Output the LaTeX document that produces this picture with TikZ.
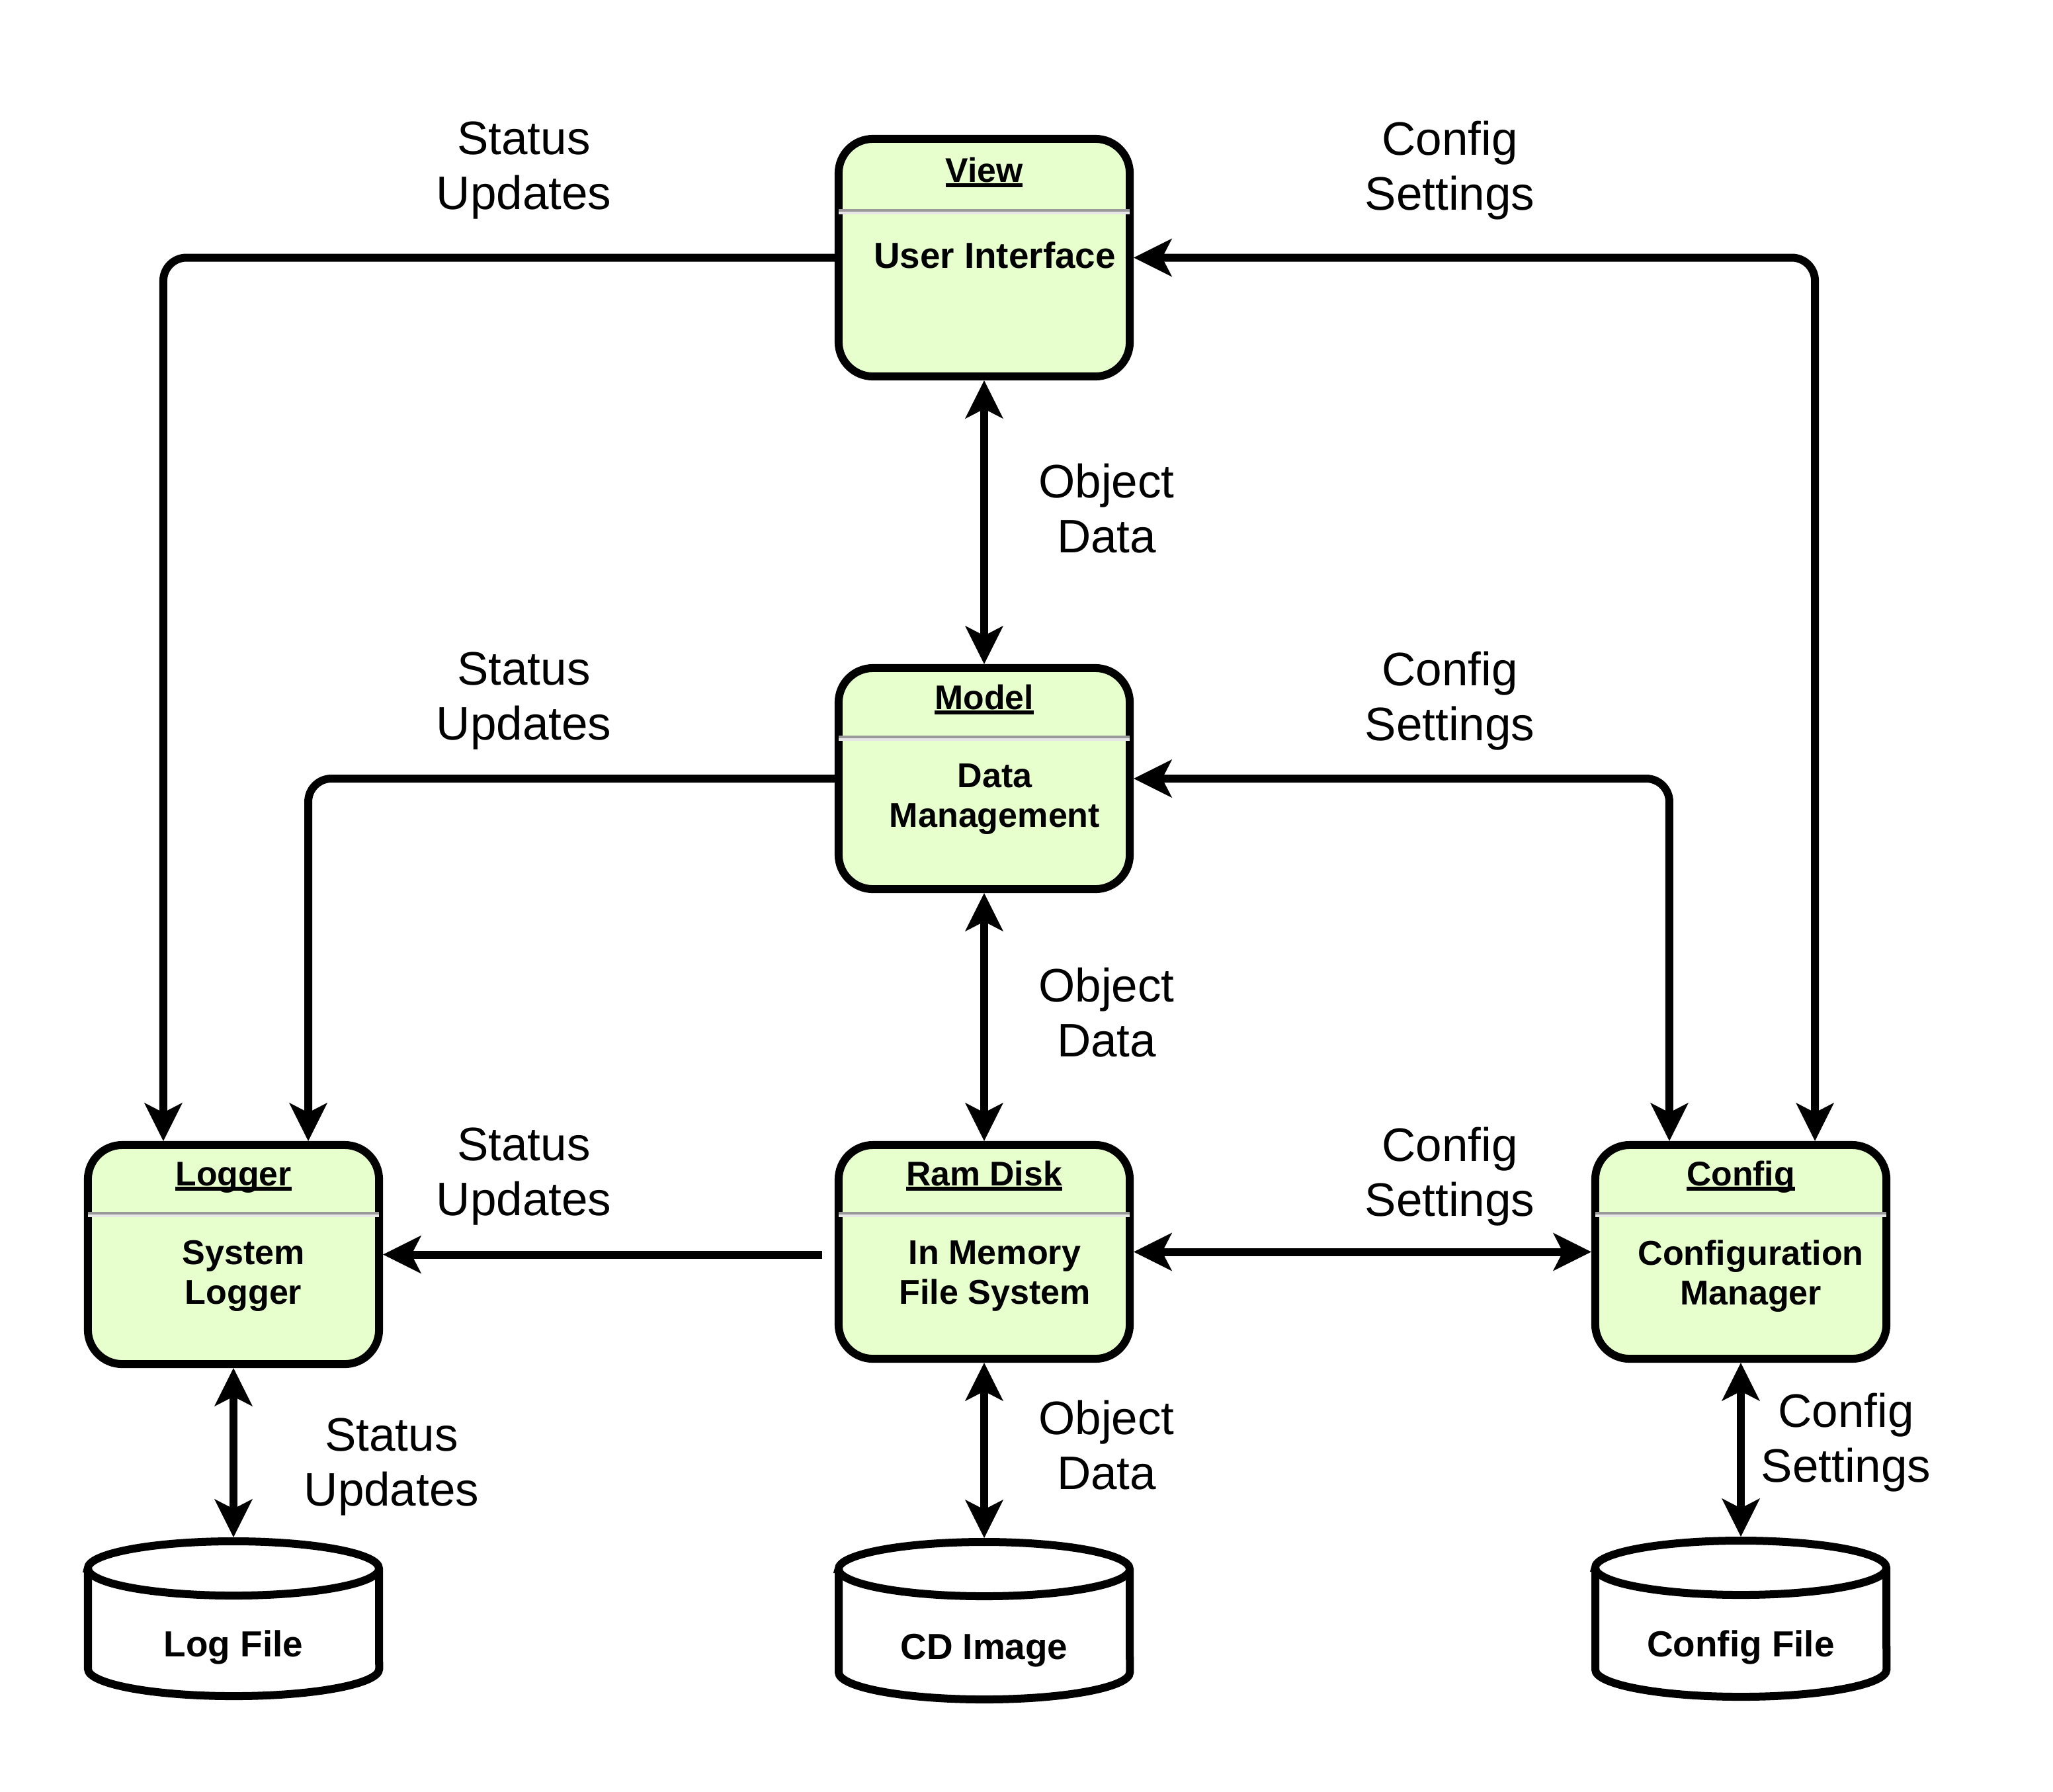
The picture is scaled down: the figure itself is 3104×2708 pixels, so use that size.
\documentclass[tikz,border=0pt]{standalone}
\usepackage{fontspec}
\setmainfont{Liberation Sans}
\usetikzlibrary{arrows.meta,calc}

\definecolor{boxgreen}{HTML}{E6FFCC}
\definecolor{divdark}{HTML}{999999}
\definecolor{divlight}{HTML}{E6E6E6}

% underlined class title
\newcommand\titleul[1]{\setbox0=\hbox{#1}\rlap{\rule[-0.08cm]{\wd0}{0.06cm}}\box0}

\tikzset{
  cbox/.style={rectangle, rounded corners=0.52cm, draw=black, line width=0.12cm,
    fill=boxgreen, minimum width=4.4cm, inner sep=0pt},
  drumbox/.style={rectangle, minimum width=4.4cm, inner sep=0pt, outer sep=0.06cm},
  drumline/.style={draw=black, line width=0.12cm, fill=white},
  divA/.style={draw=divdark, line width=0.04cm},
  divB/.style={draw=divlight, line width=0.04cm},
  ttl/.style={font=\bfseries\fontsize{14.7pt}{17pt}\selectfont, inner sep=0pt, anchor=base},
  bodytxt/.style={font=\bfseries\fontsize{14.8pt}{17.07pt}\selectfont, align=center, inner sep=0pt},
  drumtxt/.style={font=\bfseries\fontsize{15.6pt}{18pt}\selectfont, inner sep=0pt, anchor=base},
  lbl/.style={font=\fontsize{20.2pt}{23.6pt}\selectfont, align=center, inner sep=0pt},
  conn/.style={draw=black, line width=0.12cm, rounded corners=0.35cm},
}

\begin{document}
\begin{tikzpicture}[x=0.01cm, y=-0.01cm,
  >={Stealth[length=0.58cm, width=0.58cm, inset=0.15cm, line width=0pt]}]
\useasboundingbox (0,0) rectangle (3104,2708);

% ---- class boxes ----
\node[cbox, minimum height=3.59cm] (view)    at (1488,389.5) {};
\node[cbox, minimum height=3.34cm] (model)   at (1488,1177)  {};
\node[cbox, minimum height=3.23cm] (ramdisk) at (1488,1892.5) {};
\node[cbox, minimum height=3.31cm] (logger)  at (353,1896.5) {};
\node[cbox, minimum height=3.23cm] (config)  at (2632,1892.5) {};

% compartment separators
\foreach \xl/\xr/\yd in {1268/1708/318, 1268/1708/1114, 1268/1708/1834, 133/573/1834, 2412/2852/1834}{
  \draw[divA] (\xl,\yd) -- (\xr,\yd);
  \draw[divB] (\xl,\yd+4) -- (\xr,\yd+4);
}

% titles
\node[ttl] (viewT)    at (1488,275)  {\titleul{View}};
\node[ttl] (modelT)   at (1488,1072) {\titleul{Model}};
\node[ttl] (ramdiskT) at (1488,1792) {\titleul{Ram Disk}};
\node[ttl] (loggerT)  at (353,1792)  {\titleul{Logger}};
\node[ttl] (configT)  at (2632,1792) {\titleul{Config}};

% descriptions
\node[bodytxt, anchor=base, font=\bfseries\fontsize{15.6pt}{18pt}\selectfont] (viewB) at (1504,405) {User Interface};
\node[bodytxt] (modelB)   at (1504,1208) {Data\\Management};
\node[bodytxt] (ramdiskB) at (1504,1929) {In Memory\\File System};
\node[bodytxt] (loggerB)  at (368,1929)  {System\\Logger};
\node[bodytxt] (configB)  at (2647,1929) {Configuration\\Manager};

% ---- storage drums ----
\node[drumbox, minimum height=2.34cm] (logfile)    at (353,2447)  {};
\node[drumbox, minimum height=2.38cm] (cdimage)    at (1488,2450) {};
\node[drumbox, minimum height=2.36cm] (configfile) at (2632,2447) {};

\foreach \xl/\xr/\yt/\yb in {133/573/2371/2523, 1268/1708/2372/2528, 2412/2852/2370/2524}{
  \draw[drumline] (\xl,\yt) -- (\xl,\yb)
     arc[start angle=180, end angle=360, x radius=2.2cm, y radius=0.41cm]
     -- (\xr,\yt)
     arc[start angle=0, end angle=180, x radius=2.2cm, y radius=0.41cm] -- cycle;
  \draw[line width=0.12cm] (\xl,\yt)
     arc[start angle=180, end angle=360, x radius=2.2cm, y radius=0.41cm];
}

\node[drumtxt] (logfileT)    at (353,2504)  {Log File};
\node[drumtxt] (cdimageT)    at (1488,2508) {CD Image};
\node[drumtxt] (configfileT) at (2632,2504) {Config File};

% ---- connectors ----
\draw[conn, ->]  (view.west)  -| ([xshift=-1.06cm]logger.north);
\draw[conn, <->] (view.east)  -| ([xshift=1.12cm]config.north);
\draw[conn, <->] (view.south) -- (model.north);
\draw[conn, ->]  (model.west) -| ([xshift=1.13cm]logger.north);
\draw[conn, <->] (model.east) -| ([xshift=-1.08cm]config.north);
\draw[conn, <->] (model.south) -- (ramdisk.north);
\coordinate (rdout) at ([xshift=-0.19cm]ramdisk.west);
\draw[conn, ->]  (rdout |- logger.east) -- (logger.east);
\draw[conn, <->] (ramdisk.east) -- (config.west);
\draw[conn, <->] (logger.south) -- (logfile.north);
\draw[conn, <->] (ramdisk.south) -- (cdimage.north);
\draw[conn, <->] (config.south) -- (configfile.north);

% ---- flow labels ----
\node[lbl] (l1)  at (792,258)   {Status\\Updates};
\node[lbl] (l2)  at (2192,258)  {Config\\Settings};
\node[lbl] (l3)  at (1673,769)  {Object\\Data};
\node[lbl] (l4)  at (792,1060)  {Status\\Updates};
\node[lbl] (l5)  at (2192,1060) {Config\\Settings};
\node[lbl] (l6)  at (1673,1531) {Object\\Data};
\node[lbl] (l7)  at (792,1779)  {Status\\Updates};
\node[lbl] (l8)  at (2192,1779) {Config\\Settings};
\node[lbl] (l9)  at (592,2218)  {Status\\Updates};
\node[lbl] (l10) at (1673,2185) {Object\\Data};
\node[lbl] (l11) at (2791,2181) {Config\\Settings};
\end{tikzpicture}
\end{document}
